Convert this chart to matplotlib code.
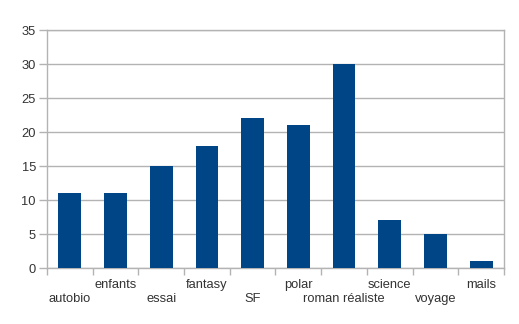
import matplotlib
matplotlib.use("Agg")
import matplotlib.pyplot as plt
import numpy as np

genres = ["autobio", "enfants", "essai", "fantasy", "SF", "polar",
          "roman réaliste", "science", "voyage", "mails"]
counts = [11, 11, 15, 18, 22, 21, 30, 7, 5, 1]

plt.rcParams["font.family"] = ["Liberation Sans", "DejaVu Sans"]

fig = plt.figure(figsize=(5.19, 3.24), dpi=100)
ax = fig.add_axes([0.0906, 0.1728, 0.8804, 0.7346])

x = np.arange(len(genres))
ax.bar(x, counts, width=0.5, color="#004586", zorder=3)

ax.set_xlim(-0.5, len(genres) - 0.5)
ax.set_ylim(0, 35)
ax.set_yticks(range(0, 36, 5))
ax.yaxis.grid(True, color="#b3b3b3", linewidth=1, zorder=0)

# labels centred under bars, tick marks on category boundaries
ax.set_xticks(x)
ax.set_xticklabels(genres)
ax.set_xticks(np.arange(-0.5, len(genres), 1), minor=True)
ax.tick_params(axis="x", which="major", length=0, labelsize=9.3, labelcolor="#333333")
ax.tick_params(axis="x", which="minor", length=5, color="#b3b3b3", width=1)
ax.tick_params(axis="y", length=6, color="#b3b3b3", width=1, labelsize=9.3,
               labelcolor="#333333", pad=2)

# stagger the category labels on two rows
for i, tick in enumerate(ax.xaxis.get_major_ticks()):
    tick.set_pad(18 if i % 2 == 0 else 8)

for side in ["left", "right", "top", "bottom"]:
    ax.spines[side].set_color("#b3b3b3")
    ax.spines[side].set_linewidth(1)

fig.savefig("out.png", dpi=100)
